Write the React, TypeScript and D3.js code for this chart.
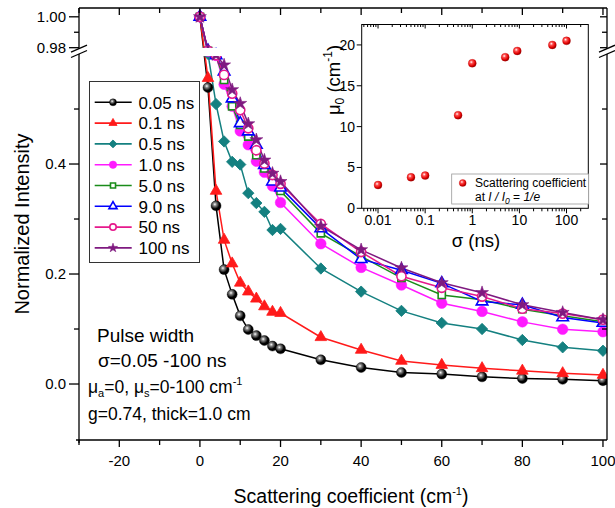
import React from "react";
import * as d3 from "d3";

// ---------- data ----------
const xValues = [0, 2, 4, 6, 8, 10, 12, 14, 16, 18, 20, 30, 40, 50, 60, 70, 80, 90, 100];
const pulse005 = [1.0, 0.539, 0.324, 0.208, 0.163, 0.124, 0.099, 0.088, 0.079, 0.069, 0.064, 0.044, 0.030, 0.021, 0.018, 0.013, 0.010, 0.0085, 0.006];
const pulse01 = [1.0, 0.556, 0.351, 0.262, 0.219, 0.184, 0.168, 0.155, 0.141, 0.131, 0.129, 0.085, 0.062, 0.042, 0.0345, 0.0285, 0.024, 0.0194, 0.0164];
const pulse05 = [1.0, 0.70, 0.509, 0.441, 0.404, 0.399, 0.347, 0.329, 0.313, 0.28, 0.282, 0.21, 0.168, 0.133, 0.111, 0.100, 0.080, 0.0667, 0.0605];
const pulse1 = [1.0, 0.83, 0.62, 0.545, 0.505, 0.46, 0.435, 0.405, 0.385, 0.36, 0.33, 0.255, 0.212, 0.18, 0.147, 0.132, 0.113, 0.0995, 0.095];
const pulse5 = [1.0, 0.84, 0.625, 0.553, 0.505, 0.471, 0.45, 0.416, 0.392, 0.375, 0.351, 0.274, 0.232, 0.193, 0.162, 0.153, 0.136, 0.124, 0.113];
const pulse9 = [1.0, 0.845, 0.63, 0.568, 0.519, 0.474, 0.459, 0.435, 0.398, 0.368, 0.357, 0.283, 0.227, 0.207, 0.183, 0.15, 0.144, 0.121, 0.111];
const pulse50 = [1.0, 0.85, 0.635, 0.562, 0.528, 0.498, 0.465, 0.425, 0.401, 0.38, 0.364, 0.291, 0.24, 0.196, 0.175, 0.159, 0.137, 0.128, 0.117];
const pulse100 = [1.0, 0.86, 0.65, 0.58, 0.535, 0.51, 0.473, 0.444, 0.407, 0.383, 0.368, 0.287, 0.244, 0.211, 0.184, 0.166, 0.144, 0.13, 0.117];
const seriesNames = ["0.05 ns", "0.1 ns", "0.5 ns", "1.0 ns", "5.0 ns", "9.0 ns", "50 ns", "100 ns"];
const seriesValues = [pulse005, pulse01, pulse05, pulse1, pulse5, pulse9, pulse50, pulse100];

const xTicks = [-20, 0, 20, 40, 60, 80, 100];
const xMinorTicks = [-30, -10, 10, 30, 50, 70, 90];
const yTicksLower = [0.0, 0.2, 0.4];
const yMinorLower = [0.1, 0.3, 0.5];
const yTicksUpper = [0.98, 1.0];
const yMinorUpper = [0.99];

const insetSigma = [0.01, 0.05, 0.1, 0.5, 1, 5, 9, 50, 100];
const insetMu0 = [2.85, 3.8, 4.0, 11.4, 17.75, 18.5, 19.26, 20.0, 20.5];
const insetXTicks = [0.01, 0.1, 1, 10, 100];
const insetYTicks = [0, 5, 10, 15, 20];

// ---------- styles ----------
const seriesStyles = [
  { color: "#000000", kind: "sphere" },
  { color: "#ff1a1a", kind: "triFill" },
  { color: "#148080", kind: "diamond" },
  { color: "#ff1aff", kind: "circleFill" },
  { color: "#1a8c1a", kind: "squareOpen" },
  { color: "#0000ff", kind: "triOpen" },
  { color: "#e6198c", kind: "circleOpen" },
  { color: "#7f1a80", kind: "star" },
];

const FONT = "'Liberation Sans', Arial, Helvetica, sans-serif";

function Marker({ kind, color, cx, cy, k = 1 }: any) {
  const t = `translate(${cx},${cy})`;
  switch (kind) {
    case "sphere":
      return <circle cx={cx} cy={cy} r={5 * k} fill="url(#sphereBlack)" stroke="#000" strokeWidth={0.4} />;
    case "triFill":
      return <path transform={t} d={d3.symbol(d3.symbolTriangle, 58 * k * k)() as string} fill={color} stroke={color} strokeWidth={0.8} />;
    case "diamond":
      return <path transform={`${t} rotate(45)`} d={d3.symbol(d3.symbolSquare, 64 * k * k)() as string} fill={color} stroke={color} strokeWidth={0.8} />;
    case "circleFill":
      return <circle cx={cx} cy={cy} r={5.3 * k} fill={color} stroke={color} strokeWidth={0.5} />;
    case "squareOpen":
      return <path transform={t} d={d3.symbol(d3.symbolSquare, 52 * k * k)() as string} fill="#fff" stroke={color} strokeWidth={1.6} />;
    case "triOpen":
      return <path transform={t} d={d3.symbol(d3.symbolTriangle, 58 * k * k)() as string} fill="#fff" stroke={color} strokeWidth={1.6} />;
    case "circleOpen":
      return <circle cx={cx} cy={cy} r={4.6 * k} fill="#fff" stroke={color} strokeWidth={1.6} />;
    case "star":
      return <path transform={t} d={d3.symbol(d3.symbolStar, 52 * k * k)() as string} fill={color} stroke={color} strokeWidth={0.6} />;
    default:
      return null;
  }
}

export default function App() {
  const W = 615, H = 508;
  const L = 79, R = 607, T = 8, B = 440;
  const upBottom = 48, lowTop = 56;

  const x = d3.scaleLinear().domain([-30, 101]).range([L, R]);
  const y = d3.scaleLinear().domain([-0.1018, 0.5964, 0.9798, 1.0057]).range([B, lowTop, upBottom, T]);

  const line = d3.line<[number, number]>().x((d) => x(d[0])).y((d) => y(d[1]));
  const series = seriesValues.map((vals) => xValues.map((xv, i) => [xv, vals[i]] as [number, number]));

  // inset scales
  const iL = 361.7, iR = 588.3, iT = 24.5, iB = 208.3;
  const ix = d3.scaleLog().domain([0.0045, 290]).range([iL, iR]);
  const iy = d3.scaleLinear().domain([0, 22.5]).range([iB, iT]);
  const insetMinor: number[] = [];
  for (let e = -3; e <= 2; e++) {
    for (let m = 2; m <= 9; m++) {
      const v = m * Math.pow(10, e);
      if (v >= 0.0045 && v <= 290) insetMinor.push(v);
    }
  }

  const legendRowY = (i: number) => 102.3 + i * 20.8;

  const drawSeries = (clip: string) => (
    <g clipPath={`url(#${clip})`}>
      {series.map((pts, si) => (
        <path key={"l" + si} d={line(pts) as string} fill="none" stroke={seriesStyles[si].color} strokeWidth={1.5} />
      ))}
      {series.map((pts, si) => (
        <g key={"m" + si}>
          {pts.map((p, i) => (
            <Marker key={i} kind={seriesStyles[si].kind} color={seriesStyles[si].color} cx={x(p[0])} cy={y(p[1])} />
          ))}
        </g>
      ))}
    </g>
  );

  return (
    <svg width={W} height={H} style={{ position: "absolute", left: 0, top: 0, background: "#fff" }} fontFamily={FONT}>
      <defs>
        <radialGradient id="sphereBlack" cx="38%" cy="35%" r="65%">
          <stop offset="0%" stopColor="#ffffff" />
          <stop offset="25%" stopColor="#888888" />
          <stop offset="70%" stopColor="#000000" />
          <stop offset="100%" stopColor="#000000" />
        </radialGradient>
        <radialGradient id="sphereRed" cx="38%" cy="35%" r="65%">
          <stop offset="0%" stopColor="#ffffff" />
          <stop offset="30%" stopColor="#ff5050" />
          <stop offset="75%" stopColor="#e00000" />
          <stop offset="100%" stopColor="#900000" />
        </radialGradient>
        <clipPath id="clipUp">
          <rect x={L} y={T} width={R - L} height={upBottom - T} />
        </clipPath>
        <clipPath id="clipLow">
          <rect x={L} y={lowTop} width={R - L} height={B - lowTop} />
        </clipPath>
      </defs>
      <rect x={0} y={0} width={W} height={H} fill="#fff" />

      {/* data */}
      {drawSeries("clipUp")}
      {drawSeries("clipLow")}

      {/* frame */}
      <g stroke="#000" strokeWidth={1.3} fill="none">
        <line x1={L} x2={R} y1={T} y2={T} />
        <line x1={L - 3} x2={R} y1={B} y2={B} />
        <line x1={L} x2={L} y1={T} y2={48.7} />
        <line x1={L} x2={L} y1={54} y2={B + 3} />
        <line x1={R} x2={R} y1={T} y2={48.7} />
        <line x1={R} x2={R} y1={54} y2={B} />
        {/* break marks */}
        {[L, R].map((bx) => (
          <g key={bx}>
            <line x1={bx - 8} y1={52.2} x2={bx + 8} y2={45.2} />
            <line x1={bx - 8} y1={57.5} x2={bx + 8} y2={50.5} />
          </g>
        ))}
      </g>

      {/* bottom & top ticks */}
      <g stroke="#000" strokeWidth={1.3}>
        {xTicks.map((t) => (
          <g key={"xt" + t}>
            <line x1={x(t)} x2={x(t)} y1={B} y2={B + 7} />
            <line x1={x(t)} x2={x(t)} y1={T} y2={T + 7} />
          </g>
        ))}
        {xMinorTicks.map((t) => (
          <g key={"xm" + t}>
            <line x1={x(t)} x2={x(t)} y1={B} y2={B + 5} />
            <line x1={x(t)} x2={x(t)} y1={T} y2={T + 5} />
          </g>
        ))}
        {[...yTicksLower, ...yTicksUpper].map((t) => (
          <g key={"yt" + t}>
            <line x1={L - 10} x2={L} y1={y(t)} y2={y(t)} />
            <line x1={R - 7} x2={R} y1={y(t)} y2={y(t)} />
          </g>
        ))}
        {[...yMinorLower, ...yMinorUpper].map((t) => (
          <g key={"ym" + t}>
            <line x1={L - 5} x2={L} y1={y(t)} y2={y(t)} />
            <line x1={R - 5} x2={R} y1={y(t)} y2={y(t)} />
          </g>
        ))}
      </g>
      <g fontSize={15} fill="#000">
        {xTicks.map((t) => (
          <text key={"xl" + t} x={x(t)} y={466} textAnchor="middle">{String(t)}</text>
        ))}
        {yTicksLower.map((t) => (
          <text key={"yl" + t} x={66} y={y(t) + 5.4} textAnchor="end">{t.toFixed(1)}</text>
        ))}
        {yTicksUpper.map((t) => (
          <text key={"yu" + t} x={66} y={y(t) + 5.4} textAnchor="end">{t.toFixed(2)}</text>
        ))}
      </g>

      {/* axis titles */}
      <text x={351} y={503} textAnchor="middle" fontSize={19.5}>
        Scattering coefficient (cm<tspan dy={-8} fontSize={11}>-1</tspan><tspan dy={8}>)</tspan>
      </text>
      <text transform="translate(29,224) rotate(-90)" textAnchor="middle" fontSize={20}>Normalized Intensity</text>

      {/* legend */}
      <rect x={89.5} y={81.5} width={110} height={181} fill="#fff" stroke="#333" strokeWidth={1} />
      {seriesNames.map((name, i) => (
        <g key={"lg" + i}>
          <line x1={94.7} x2={131.7} y1={legendRowY(i)} y2={legendRowY(i)} stroke={seriesStyles[i].color} strokeWidth={1.6} />
          <Marker kind={seriesStyles[i].kind} color={seriesStyles[i].color} cx={113} cy={legendRowY(i)} k={0.7} />
          <text x={138.5} y={legendRowY(i) + 6.2} fontSize={17}>{name}</text>
        </g>
      ))}

      {/* annotation */}
      <g fill="#000">
        <text x={97} y={342} fontSize={19}>Pulse width</text>
        <text x={98} y={367} fontSize={19}>σ=0.05 -100 ns</text>
        <text x={88} y={393} fontSize={17.5}>
          μ<tspan dy={4} fontSize={11}>a</tspan><tspan dy={-4}>=0, μ</tspan><tspan dy={4} fontSize={11}>s</tspan><tspan dy={-4}>=0-100 cm</tspan><tspan dy={-8} fontSize={11}>-1</tspan>
        </text>
        <text x={88} y={420} fontSize={17.5}>g=0.74, thick=1.0 cm</text>
      </g>

      {/* inset */}
      <g>
        <rect x={iL} y={iT} width={iR - iL} height={iB - iT} fill="#fff" stroke="#000" strokeWidth={1} />
        <g stroke="#000" strokeWidth={1}>
          {insetYTicks.map((t) => (
            <line key={"iyt" + t} x1={iL - 5} x2={iL} y1={iy(t)} y2={iy(t)} />
          ))}
          {insetXTicks.map((t) => (
            <g key={"ixt" + t}>
              <line x1={ix(t)} x2={ix(t)} y1={iB} y2={iB + 5} />
              <line x1={ix(t)} x2={ix(t)} y1={iT} y2={iT + 4} />
            </g>
          ))}
          {insetMinor.map((t) => (
            <g key={"ixm" + t}>
              <line x1={ix(t)} x2={ix(t)} y1={iB} y2={iB + 3} />
              <line x1={ix(t)} x2={ix(t)} y1={iT} y2={iT + 2.5} />
            </g>
          ))}
        </g>
        <g fontSize={14} fill="#000">
          {insetYTicks.map((t) => (
            <text key={"iyl" + t} x={355} y={iy(t) + 5} textAnchor="end">{t}</text>
          ))}
          {insetXTicks.map((t) => (
            <text key={"ixl" + t} x={ix(t)} y={225} textAnchor="middle">{String(t)}</text>
          ))}
        </g>
        <text x={476} y={247} textAnchor="middle" fontSize={18.5}>σ (ns)</text>
        <text transform="translate(340,80) rotate(-90)" textAnchor="middle" fontSize={18.5}>
          μ<tspan dy={4} fontSize={12}>0</tspan><tspan dy={-4}> (cm</tspan><tspan dy={-8} fontSize={12}>-1</tspan><tspan dy={8}>)</tspan>
        </text>
        {insetSigma.map((s, i) => (
          <circle key={"ip" + i} cx={ix(s)} cy={iy(insetMu0[i])} r={4} fill="url(#sphereRed)" stroke="#c00000" strokeWidth={0.3} />
        ))}
        {/* inset legend */}
        <rect x={451.7} y={174} width={137} height={30} fill="#fff" stroke="#999" strokeWidth={0.8} />
        <circle cx={462.7} cy={183} r={3.5} fill="url(#sphereRed)" stroke="#c00000" strokeWidth={0.3} />
        <text x={475} y={187} fontSize={12}>Scattering coefficient</text>
        <text x={475} y={201} fontSize={12}>
          at <tspan fontStyle="italic">I / I</tspan><tspan dy={3} fontSize={8.5} fontStyle="italic">0</tspan><tspan dy={-3}> = </tspan><tspan fontStyle="italic">1/e</tspan>
        </text>
      </g>
    </svg>
  );
}
